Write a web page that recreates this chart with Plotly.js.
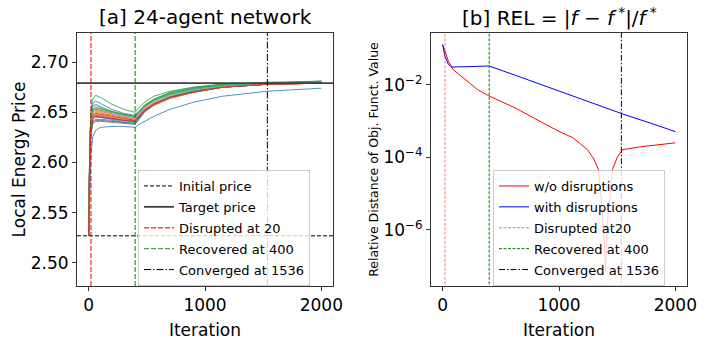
<!DOCTYPE html>
<html>
<head>
<meta charset="utf-8">
<script src="https://cdn.plot.ly/plotly-3.0.1.min.js"></script>
<style>
  html, body { margin: 0; padding: 0; background: #fff; }
  #chart { width: 706px; height: 340px; }
</style>
</head>
<body>
<div id="chart"></div>
<script>
// events (iteration numbers) and reference prices
const disruptIter = 20;
const recoverIter = 400;
const convergeIter = 1536;
const initialPrice = 2.527;
const targetPrice = 2.679;

// [a] local energy price of each agent, sampled at these iterations
const iters = [0, 10, 20, 35, 60, 100, 200, 300, 399, 420, 480, 560, 700, 900, 1150, 1536, 2000];
const agentPrices = [
    [2.527, 2.575, 2.608, 2.625, 2.632, 2.635, 2.636, 2.636, 2.635, 2.637, 2.641, 2.646, 2.653, 2.660, 2.666, 2.671, 2.674],
    [2.527, 2.615, 2.640, 2.650, 2.652, 2.651, 2.648, 2.645, 2.643, 2.646, 2.653, 2.659, 2.665, 2.671, 2.675, 2.678, 2.679],
    [2.527, 2.625, 2.652, 2.663, 2.667, 2.665, 2.658, 2.653, 2.650, 2.653, 2.660, 2.666, 2.671, 2.675, 2.678, 2.679, 2.680],
    [2.527, 2.610, 2.635, 2.645, 2.647, 2.646, 2.644, 2.642, 2.641, 2.644, 2.652, 2.658, 2.665, 2.670, 2.675, 2.678, 2.679],
    [2.527, 2.618, 2.643, 2.652, 2.654, 2.653, 2.650, 2.647, 2.645, 2.648, 2.655, 2.661, 2.667, 2.672, 2.676, 2.678, 2.680],
    [2.527, 2.605, 2.630, 2.640, 2.642, 2.642, 2.641, 2.640, 2.639, 2.642, 2.651, 2.658, 2.665, 2.671, 2.675, 2.678, 2.679],
    [2.527, 2.612, 2.638, 2.647, 2.649, 2.648, 2.646, 2.644, 2.642, 2.645, 2.652, 2.658, 2.664, 2.670, 2.675, 2.678, 2.679],
    [2.527, 2.620, 2.646, 2.656, 2.658, 2.656, 2.651, 2.648, 2.646, 2.649, 2.656, 2.662, 2.668, 2.673, 2.676, 2.679, 2.680],
    [2.527, 2.614, 2.640, 2.649, 2.651, 2.650, 2.647, 2.645, 2.643, 2.646, 2.654, 2.660, 2.666, 2.671, 2.675, 2.678, 2.680],
    [2.527, 2.608, 2.633, 2.643, 2.645, 2.645, 2.643, 2.641, 2.640, 2.643, 2.652, 2.659, 2.666, 2.672, 2.676, 2.679, 2.681],
    [2.527, 2.622, 2.649, 2.659, 2.661, 2.659, 2.653, 2.649, 2.647, 2.650, 2.657, 2.663, 2.669, 2.674, 2.677, 2.679, 2.680],
    [2.527, 2.612, 2.637, 2.646, 2.648, 2.647, 2.645, 2.643, 2.642, 2.645, 2.652, 2.657, 2.664, 2.670, 2.675, 2.678, 2.679],
    [2.527, 2.616, 2.642, 2.651, 2.653, 2.652, 2.649, 2.647, 2.645, 2.648, 2.656, 2.662, 2.669, 2.674, 2.677, 2.679, 2.681],
    [2.527, 2.613, 2.638, 2.647, 2.649, 2.648, 2.646, 2.644, 2.642, 2.645, 2.652, 2.658, 2.665, 2.670, 2.675, 2.678, 2.679],
    [2.527, 2.610, 2.635, 2.644, 2.646, 2.645, 2.643, 2.642, 2.641, 2.644, 2.652, 2.659, 2.665, 2.671, 2.675, 2.678, 2.680],
    [2.527, 2.603, 2.628, 2.638, 2.641, 2.641, 2.640, 2.639, 2.638, 2.641, 2.650, 2.657, 2.664, 2.670, 2.675, 2.678, 2.679],
    [2.527, 2.615, 2.641, 2.650, 2.652, 2.651, 2.648, 2.646, 2.644, 2.647, 2.654, 2.659, 2.665, 2.671, 2.675, 2.678, 2.679],
    [2.527, 2.611, 2.636, 2.645, 2.647, 2.646, 2.644, 2.642, 2.641, 2.644, 2.652, 2.658, 2.665, 2.671, 2.675, 2.678, 2.680],
    [2.527, 2.617, 2.643, 2.652, 2.654, 2.653, 2.650, 2.647, 2.645, 2.648, 2.655, 2.661, 2.667, 2.672, 2.676, 2.679, 2.680],
    [2.527, 2.619, 2.645, 2.655, 2.657, 2.655, 2.650, 2.647, 2.645, 2.648, 2.656, 2.662, 2.668, 2.673, 2.677, 2.679, 2.681],
    [2.527, 2.606, 2.631, 2.641, 2.643, 2.643, 2.642, 2.640, 2.639, 2.642, 2.651, 2.658, 2.665, 2.671, 2.675, 2.678, 2.680],
    [2.527, 2.614, 2.639, 2.648, 2.650, 2.649, 2.647, 2.645, 2.643, 2.646, 2.653, 2.658, 2.664, 2.670, 2.675, 2.678, 2.679],
    [2.527, 2.618, 2.644, 2.653, 2.655, 2.654, 2.651, 2.648, 2.646, 2.649, 2.657, 2.663, 2.670, 2.675, 2.678, 2.680, 2.681],
    [2.527, 2.609, 2.634, 2.644, 2.646, 2.645, 2.644, 2.642, 2.641, 2.644, 2.652, 2.658, 2.665, 2.670, 2.675, 2.678, 2.679]
];
const agentColors = ['#1f77b4', '#ff7f0e', '#2ca02c', '#d62728', '#9467bd',
                     '#8c564b', '#e377c2', '#7f7f7f', '#bcbd22', '#17becf'];

// [b] relative distance of objective value
const relIterNoDis = [0, 15, 50, 90, 190, 300, 400, 620, 850, 1010, 1120, 1245, 1300, 1340, 1373, 1385, 1395, 1400, 1405, 1415, 1425, 1459, 1502, 1545, 1700, 1850, 2000];
const relNoDis = [0.129, 0.0933, 0.0447, 0.0263, 0.0141, 0.00741, 0.0049, 0.00234, 0.00093, 0.0005, 0.000347, 0.000162, 0.0000891, 0.0000457,
                  2.95e-6, 9e-7, 2e-7, 7e-8, 2e-7, 1.5e-6, 2.95e-6, 4.57e-5, 1.02e-4, 1.62e-4, 1.95e-4, 2.24e-4, 2.51e-4];
const relIterDis = [0, 20, 50, 80, 200, 400, 620, 850, 1020, 1250, 1545, 1800, 2000];
const relDis = [0.129, 0.0617, 0.0363, 0.0309, 0.0316, 0.0331, 0.0186, 0.0100, 0.00646, 0.00347, 0.00158, 0.00085, 0.00051];

const FONT = 'DejaVu Sans, sans-serif';
const xRange = [-100, 2100];
const priceRange = [2.477, 2.729];
const relRange = [-7.55, -0.57];

const traces = [];

// agent curves
agentPrices.forEach((p, i) => {
    traces.push({
        x: iters, y: p, type: 'scatter', mode: 'lines',
        line: { color: agentColors[i % 10], width: 0.8 },
        showlegend: false, xaxis: 'x', yaxis: 'y'
    });
});

function hline(y, name, color, width, dash, lg) {
    return {
        x: xRange, y: [y, y], type: 'scatter', mode: 'lines', name: name,
        line: { color: color, width: width, dash: dash },
        xaxis: 'x', yaxis: 'y', legend: lg, legendgroup: name
    };
}
function vline(x, yr, name, color, width, dash, xa, ya, lg) {
    return {
        x: [x, x], y: yr, type: 'scatter', mode: 'lines', name: name,
        line: { color: color, width: width, dash: dash },
        xaxis: xa, yaxis: ya, legend: lg, legendgroup: lg + name
    };
}

traces.push(hline(initialPrice, 'Initial price', '#000000', 1, '4px,2px', 'legend'));
traces.push(hline(targetPrice, 'Target price', '#404040', 1.8, 'solid', 'legend'));
traces.push(vline(disruptIter, priceRange, 'Disrupted at 20', 'rgba(255,0,0,0.75)', 1.4, '5px,2px', 'x', 'y', 'legend'));
traces.push(vline(recoverIter, priceRange, 'Recovered at 400', 'rgba(0,128,0,0.7)', 1.4, '5px,2px', 'x', 'y', 'legend'));
traces.push(vline(convergeIter, priceRange, 'Converged at 1536', '#000000', 1, '7px,2px,1.5px,2px', 'x', 'y', 'legend'));

// right panel
const relY = [1e-8, 1];
traces.push({
    x: relIterNoDis, y: relNoDis, type: 'scatter', mode: 'lines', name: 'w/o disruptions',
    line: { color: '#ff0000', width: 1 }, xaxis: 'x2', yaxis: 'y2', legend: 'legend2', legendgroup: 'a'
});
traces.push({
    x: relIterDis, y: relDis, type: 'scatter', mode: 'lines', name: 'with disruptions',
    line: { color: '#0000ff', width: 1 }, xaxis: 'x2', yaxis: 'y2', legend: 'legend2', legendgroup: 'b'
});
traces.push(vline(disruptIter, relY, 'Disrupted at20', 'rgba(255,0,0,0.55)', 1, '3px,1.5px', 'x2', 'y2', 'legend2'));
traces.push(vline(recoverIter, relY, 'Recovered at 400', '#008000', 1, '3px,1.5px', 'x2', 'y2', 'legend2'));
traces.push(vline(convergeIter, relY, 'Converged at 1536', '#000000', 1, '6px,2px,1.5px,2px', 'x2', 'y2', 'legend2'));

const axisCommon = {
    showgrid: false, zeroline: false, showline: true, mirror: true,
    linecolor: '#333', linewidth: 1, ticks: 'outside', ticklen: 4, tickcolor: '#333',
    tickfont: { family: FONT, size: 17, color: '#000' }, automargin: false
};
const yDomain = [54 / 340, 307 / 340];

const legendCommon = {
    font: { family: FONT, size: 13, color: '#000' },
    bgcolor: 'rgba(255,255,255,0.8)', bordercolor: '#cccccc', borderwidth: 1,
    xanchor: 'left', yanchor: 'top', y: 170 / 340, tracegroupgap: 1
};

const layout = {
    width: 706, height: 340,
    margin: { l: 0, r: 0, t: 0, b: 0 },
    paper_bgcolor: '#fff', plot_bgcolor: '#fff',
    font: { family: FONT, color: '#000' },
    hovermode: false,
    xaxis: Object.assign({}, axisCommon, {
        domain: [77 / 706, 333 / 706], range: xRange, tickvals: [0, 1000, 2000],
        title: { text: 'Iteration', font: { family: FONT, size: 17 } }, anchor: 'y'
    }),
    yaxis: Object.assign({}, axisCommon, {
        domain: yDomain, range: priceRange, tickvals: [2.50, 2.55, 2.60, 2.65, 2.70], tickformat: '.2f',
        title: { text: 'Local Energy Price', font: { family: FONT, size: 17 } }, anchor: 'x'
    }),
    xaxis2: Object.assign({}, axisCommon, {
        domain: [431 / 706, 687 / 706], range: xRange, tickvals: [0, 1000, 2000],
        title: { text: 'Iteration', font: { family: FONT, size: 17 } }, anchor: 'y2'
    }),
    yaxis2: Object.assign({}, axisCommon, {
        domain: yDomain, type: 'log', range: relRange,
        tickvals: [1e-6, 1e-4, 1e-2], ticktext: ['10<sup>\u22126</sup>', '10<sup>\u22124</sup>', '10<sup>\u22122</sup>'],
        title: { text: 'Relative Distance of Obj. Funct. Value', font: { family: FONT, size: 12.5 } }, anchor: 'x2'
    }),
    legend: Object.assign({}, legendCommon, { x: 138 / 706 }),
    legend2: Object.assign({}, legendCommon, { x: 493 / 706 }),
    annotations: [
        { text: '[a] 24-agent network', x: 205 / 706, y: 1 - 17 / 340, xref: 'paper', yref: 'paper',
          xanchor: 'center', yanchor: 'middle', showarrow: false, font: { family: FONT, size: 20 } },
        { text: '[b] REL = |<i>f</i> \u2212 <i>f</i>\u2009<sup>*</sup>|/<i>f</i>\u2009<sup>*</sup>', x: 559 / 706, y: 1 - 17 / 340,
          xref: 'paper', yref: 'paper', xanchor: 'center', yanchor: 'middle', showarrow: false,
          font: { family: FONT, size: 20 } }
    ]
};

Plotly.newPlot('chart', traces, layout, { staticPlot: true, displayModeBar: false });
</script>
</body>
</html>
